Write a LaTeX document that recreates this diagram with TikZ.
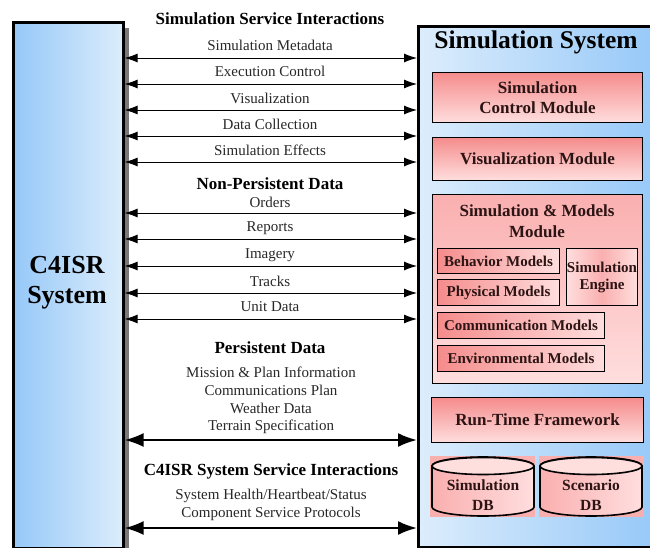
\documentclass[tikz,border=0pt]{standalone}
\usepackage{fontspec}
\setmainfont{Liberation Serif}
\usetikzlibrary{arrows.meta}
\definecolor{bluedark}{RGB}{150,200,248}
\definecolor{bluelight}{RGB}{220,237,252}
\definecolor{pinkdark}{RGB}{245,140,140}
\definecolor{pinklight}{RGB}{255,222,222}
\definecolor{pinkmid}{RGB}{250,175,175}
\definecolor{shadowgray}{RGB}{120,120,120}
\definecolor{labelgray}{RGB}{40,40,40}
\definecolor{modtext}{RGB}{45,20,20}
\tikzset{
  sysbox/.style={draw=black, line width=2.6pt, inner sep=0pt},
  modbox/.style={draw=black, line width=1.2pt, top color=pinkdark, bottom color=pinklight, inner sep=0pt, align=center, text=modtext, font=\fontsize{17}{19.5}\selectfont\bfseries},
  subbox/.style={draw=black, line width=1pt, left color=pinkdark, right color=pinklight, inner sep=0pt, align=center, text=modtext, font=\fontsize{15}{17}\selectfont\bfseries},
  lbl/.style={font=\fontsize{15}{17}\selectfont, text=labelgray, inner sep=0pt},
  hdr/.style={font=\fontsize{17}{19}\selectfont\bfseries, inner sep=0pt},
  thinarrow/.style={line width=0.9pt, {Latex[length=13pt,width=9pt]}-{Latex[length=13pt,width=9pt]}},
  thickarrow/.style={line width=2.2pt, {Latex[length=19pt,width=14pt]}-{Latex[length=19pt,width=14pt]}},
  dbtext/.style={font=\fontsize{15.5}{20}\selectfont\bfseries, align=center, inner sep=0pt, text=modtext}
}
\begin{document}
\begin{tikzpicture}[x=1pt,y=-1pt]
\useasboundingbox (0,0) rectangle (650,548);
\fill[white] (0,0) rectangle (650,548);
% shadow of left box
\fill[shadowgray] (122,28) rectangle (129,548);
% left box
\node[sysbox, left color=bluedark, right color=bluelight, minimum width=110pt, minimum height=526pt, anchor=north west] (c4) at (12,21) {};
\node[font=\fontsize{26}{30}\selectfont\bfseries, align=center, inner sep=0pt] (c4t) at (67,283) {C4ISR\\System};
% right box
\begin{scope}
\clip (0,0) rectangle (650,548);
\node[sysbox, left color=bluelight, right color=bluedark, minimum width=240pt, minimum height=521pt, anchor=north west] (sim) at (417,25) {};
\end{scope}
\node[font=\fontsize{25.5}{30}\selectfont\bfseries, inner sep=0pt] (simt) at (536,42) {Simulation System};

% modules
\node[modbox, minimum width=210pt, minimum height=50pt, anchor=north west] (scm) at (432,72) {Simulation\\Control Module};
\node[modbox, minimum width=210pt, minimum height=43pt, anchor=north west] (vis) at (432,137) {Visualization Module};
\node[draw=black, line width=1.2pt, top color=pinkmid, bottom color=pinklight, minimum width=210pt, minimum height=189pt, anchor=north west, inner sep=0pt] (smm) at (432,194) {};
\node[font=\fontsize{17}{21}\selectfont\bfseries, text=modtext, align=center, inner sep=0pt] (smmt) at (537,221) {Simulation \& Models\\Module};
\node[subbox, minimum width=122pt, minimum height=25pt, anchor=north west] (beh) at (437,248) {Behavior Models};
\node[subbox, minimum width=122pt, minimum height=26pt, anchor=north west] (phy) at (437,279) {Physical Models};
\node[subbox, left color=pinklight, right color=pinklight, middle color=pinkmid, minimum width=71pt, minimum height=57pt, anchor=north west] (eng) at (566,248) {Simulation\\Engine};
\node[subbox, minimum width=167pt, minimum height=26pt, anchor=north west] (com) at (437,312) {Communication Models};
\node[subbox, minimum width=167pt, minimum height=26pt, anchor=north west] (env) at (437,345) {Environmental Models};
\node[modbox, minimum width=212pt, minimum height=45pt, anchor=north west] (rtf) at (431,397) {Run-Time Framework};

% databases
\fill[pinkmid] (430,456) rectangle (535,517);
\fill[pinkmid] (539,456) rectangle (644,517);
\foreach \cx/\nm in {483/simdb, 591/scndb}{
  \path[draw=black, line width=1.6pt, left color=pinkmid, right color=pinklight]
    (\cx-51,466) -- (\cx-51,507) arc[start angle=180, end angle=360, x radius=51, y radius=-9] -- (\cx+51,466)
    arc[start angle=0, end angle=180, x radius=51, y radius=-9] -- cycle;
  \draw[line width=1.6pt, fill=pinklight] (\cx,466) ellipse[x radius=51, y radius=8.5];
}
\node[dbtext] (simdbt) at (483,495) {Simulation\\DB};
\node[dbtext] (scndbt) at (591,495) {Scenario\\DB};

% headings
\node[hdr] (h1) at (270,19) {Simulation Service Interactions};
\node[hdr] (h2) at (270,184) {Non-Persistent Data};
\node[hdr] (h3) at (270,348) {Persistent Data};
\node[hdr] (h4) at (271,471) {C4ISR System Service Interactions};

% thin arrows with labels
\foreach \y/\ly/\txt/\nm in {58/45/Simulation Metadata/a1, 84/71/Execution Control/a2, 110/98/Visualization/a3, 136/124/Data Collection/a4, 162/150/Simulation Effects/a5, 213/202/Orders/a6, 239/228/Reports/a7, 266/255/Imagery/a8, 293/281/Tracks/a9, 319/307/Unit Data/a10}{
  \node[lbl] (\nm) at (270,\ly) {\txt};
  \coordinate (\nm y) at (0,\y);
  \draw[thinarrow] (c4.east |- \nm y) -- (sim.west |- \nm y);
}
% persistent data
\node[lbl] (p1) at (271,372) {Mission \& Plan Information};
\node[lbl] (p2) at (271,390) {Communications Plan};
\node[lbl] (p3) at (271,408) {Weather Data};
\node[lbl] (p4) at (271,427) {Terrain Specification};
\coordinate (py) at (0,440);
\draw[thickarrow] (c4.east |- py) -- (sim.west |- py);
\node[lbl] (s1) at (271,496) {System Health/Heartbeat/Status};
\node[lbl] (s2) at (271,514) {Component Service Protocols};
\coordinate (sy) at (0,528);
\draw[thickarrow] (c4.east |- sy) -- (sim.west |- sy);
\end{tikzpicture}
\end{document}
